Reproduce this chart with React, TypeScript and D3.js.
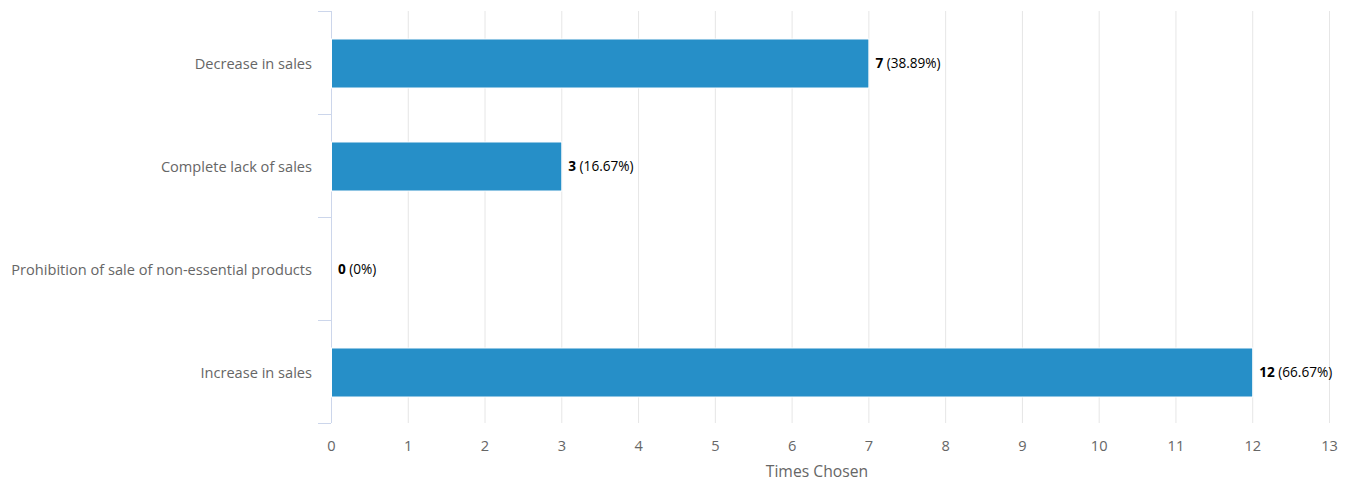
import React, { useEffect, useRef } from "react";
import * as d3 from "d3";

const categories = [
  "Decrease in sales",
  "Complete lack of sales",
  "Prohibition of sale of non-essential products",
  "Increase in sales",
];
const counts = [7, 3, 0, 12];
const percents = ["38.89%", "16.67%", "0%", "66.67%"];
const xTicks = [0, 1, 2, 3, 4, 5, 6, 7, 8, 9, 10, 11, 12, 13];
const xTitle = "Times Chosen";

const W = 1354;
const H = 482;
const M = { left: 331, right: 25, top: 11, bottom: 59 };
const FONT = "'Open Sans', 'Noto Sans', sans-serif";

export default function App() {
  const ref = useRef<SVGSVGElement>(null);
  useEffect(() => {
    const svg = d3.select(ref.current);
    svg.selectAll("*").remove();
    const x = d3.scaleLinear().domain([0, 13]).range([M.left, W - M.right]);
    const yTop = M.top;
    const yBot = H - M.bottom;
    const y = d3
      .scaleBand()
      .domain(categories)
      .range([yTop + 1, yBot + 1])
      .paddingInner(0.524)
      .paddingOuter(0.262);

    svg
      .append("g")
      .selectAll("line")
      .data(xTicks.slice(1))
      .join("line")
      .attr("x1", (d) => x(d) + 0.5)
      .attr("x2", (d) => x(d) + 0.5)
      .attr("y1", yTop)
      .attr("y2", yBot)
      .attr("stroke", "#e6e6e6")
      .attr("stroke-width", 1);

    svg
      .append("line")
      .attr("x1", M.left + 0.5)
      .attr("x2", M.left + 0.5)
      .attr("y1", yTop)
      .attr("y2", yBot)
      .attr("stroke", "#ccd6eb");
    const step = (yBot - yTop) / categories.length;
    const bounds = d3.range(categories.length + 1).map((i) => yTop + i * step);
    svg
      .append("g")
      .selectAll("line")
      .data(bounds)
      .join("line")
      .attr("x1", M.left - 13)
      .attr("x2", M.left)
      .attr("y1", (d) => Math.round(d) + 0.5)
      .attr("y2", (d) => Math.round(d) + 0.5)
      .attr("stroke", "#ccd6eb");

    svg
      .append("g")
      .selectAll("text")
      .data(categories)
      .join("text")
      .attr("x", M.left - 19)
      .attr("y", (d) => y(d)! + y.bandwidth() / 2)
      .attr("dy", "0.35em")
      .attr("text-anchor", "end")
      .attr("font-family", FONT)
      .attr("font-size", 14.6)
      .attr("fill", "#666666")
      .text((d) => d);

    svg
      .append("g")
      .selectAll("rect")
      .data(categories)
      .join("rect")
      .attr("x", x(0) + 0.5)
      .attr("y", (d) => y(d)!)
      .attr("width", (d, i) => Math.max(0, x(counts[i]) - x(0)))
      .attr("height", y.bandwidth())
      .attr("fill", "#268fc8")
      .attr("stroke", "#ffffff")
      .attr("stroke-width", (d, i) => (counts[i] > 0 ? 1 : 0));

    const lab = svg
      .append("g")
      .selectAll("text")
      .data(categories)
      .join("text")
      .attr("x", (d, i) => x(counts[i]) + 7)
      .attr("y", (d) => y(d)! + y.bandwidth() / 2)
      .attr("dy", "0.35em")
      .attr("font-family", FONT)
      .attr("font-size", 13.6)
      .attr("fill", "#000000");
    lab
      .append("tspan")
      .attr("font-weight", "bold")
      .text((d, i) => String(counts[i]));
    lab.append("tspan").text((d, i) => " (" + percents[i] + ")");

    svg
      .append("g")
      .selectAll("text")
      .data(xTicks)
      .join("text")
      .attr("x", (d) => x(d) + 0.5)
      .attr("y", yBot + 28)
      .attr("text-anchor", "middle")
      .attr("font-family", FONT)
      .attr("font-size", 14.6)
      .attr("fill", "#666666")
      .text((d) => String(d));

    svg
      .append("text")
      .attr("x", x(6.33))
      .attr("y", yBot + 54)
      .attr("text-anchor", "middle")
      .attr("font-family", FONT)
      .attr("font-size", 15.7)
      .attr("fill", "#666666")
      .text(xTitle);
  }, []);
  return (
    <svg
      ref={ref}
      width={W}
      height={H}
      style={{ position: "absolute", left: 0, top: 0, background: "#fff" }}
    />
  );
}
